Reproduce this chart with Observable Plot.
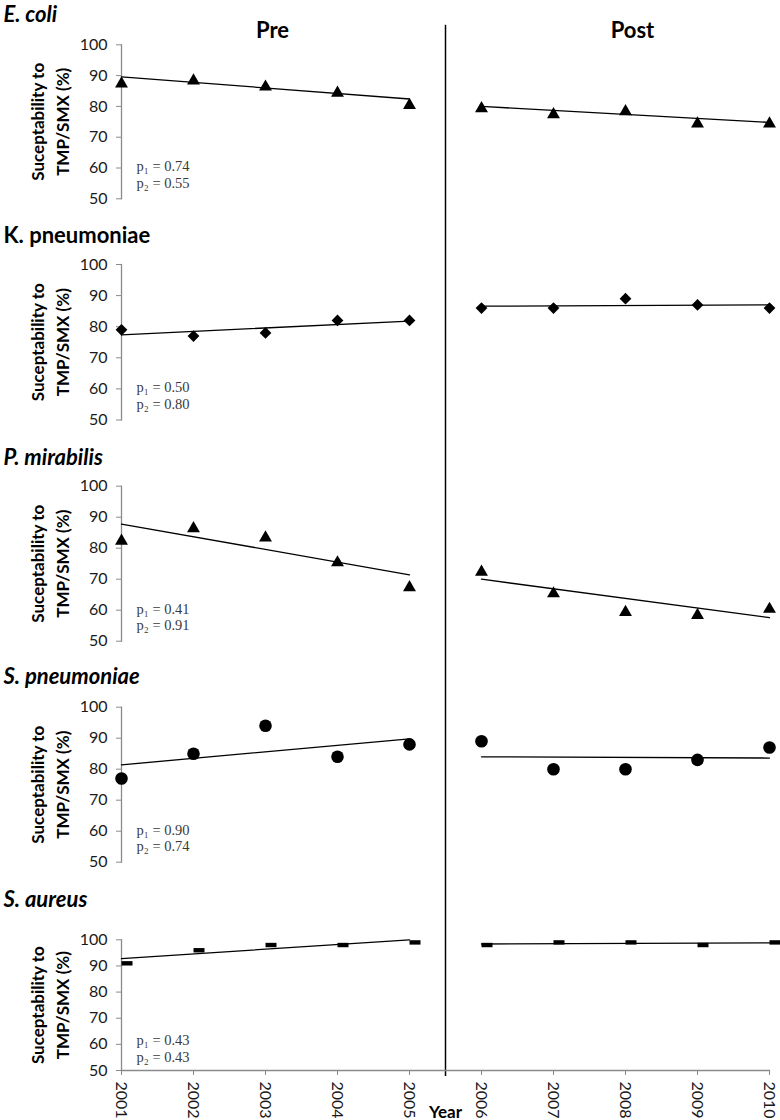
<!DOCTYPE html>
<html>
<head>
<meta charset="utf-8">
<script src="https://cdn.jsdelivr.net/npm/d3@7"></script>
<script src="https://cdn.jsdelivr.net/npm/@observablehq/plot@0.6"></script>
<style>
  body { margin: 0; background: #fff; }
  #chart { position: relative; width: 780px; height: 1120px; overflow: hidden; background: #fff; }
  #chart svg { position: absolute; left: 0; max-width: none; }
</style>
</head>
<body>
<div id="chart"></div>
<script>
// ---------- data ----------
const preYears = [2001, 2002, 2003, 2004, 2005];
const postYears = [2006, 2007, 2008, 2009, 2010];
const allYears = preYears.concat(postYears);
const yTicks = [50, 60, 70, 80, 90, 100];
const periods = ["Pre", "Post"];
const xTitle = "Year";
const yTitle = ["Suceptability to", "TMP/SMX (%)"];

const species = ["E. coli", "K. pneumoniae", "P. mirabilis", "S. pneumoniae", "S. aureus"];

const ecoliPre = [88, 89, 87, 85, 81];
const ecoliPost = [80, 78, 79, 75, 75];
const kpneuPre = [79, 77, 78, 82, 82];
const kpneuPost = [86, 86, 89, 87, 86];
const pmirPre = [83, 87, 84, 76, 68];
const pmirPost = [73, 66, 60, 59, 61];
const spneuPre = [77, 85, 94, 84, 88];
const spneuPost = [89, 80, 80, 83, 87];
const saurPre = [91, 96, 98, 98, 99];
const saurPost = [98, 99, 99, 98, 99];

const p1Values = ["0.74", "0.50", "0.41", "0.90", "0.43"];
const p2Values = ["0.55", "0.80", "0.91", "0.74", "0.43"];

const preSeries = [ecoliPre, kpneuPre, pmirPre, spneuPre, saurPre];
const postSeries = [ecoliPost, kpneuPost, pmirPost, spneuPost, saurPost];

// ---------- styling / layout ----------
const dashSymbol = {
  draw(ctx) {
    ctx.moveTo(0, -2.2); ctx.lineTo(11, -2.2); ctx.lineTo(11, 2.2); ctx.lineTo(0, 2.2); ctx.closePath();
  }
};
const panelStyle = [
  {top: 0,   height: 222, mt: 44.3, mb: 23.7, italic: true,  symbol: "triangle", r: 4.8, dy: 2, divTop: 19.5, divBot: null, pdy: -11, tb: 21},
  {top: 222, height: 222, mt: 42,   mb: 24.5, italic: false, symbol: "diamond2", r: 5.3, dy: 0, divTop: null, divBot: null, pdy: -11, tb: 20},
  {top: 444, height: 220, mt: 41.7, mb: 23.3, italic: true,  symbol: "triangle", r: 4.8, dy: 2, divTop: null, divBot: null, pdy: -11, tb: 20},
  {top: 664, height: 222, mt: 42.7, mb: 24.3, italic: true,  symbol: "circle",   r: 6.3, dy: 0, divTop: null, divBot: null, pdy: -11, tb: 19},
  {top: 886, height: 234, mt: 53.3, mb: 50,   italic: true,  symbol: dashSymbol, r: 4,   dy: 0, divTop: null, divBot: 6,    pdy: -9,  tb: 20}
];
const GRAY = "#8a8a8a";
const ML = 121, MR = 11;
const dividerX = (preYears[preYears.length - 1] + postYears[0]) / 2;

const chart = document.getElementById("chart");

species.forEach((name, i) => {
  const st = panelStyle[i];
  const isFirst = i === 0;
  const isLast = i === species.length - 1;
  const pre = preYears.map((x, j) => ({x, y: preSeries[i][j]}));
  const post = postYears.map((x, j) => ({x, y: postSeries[i][j]}));
  const all = pre.concat(post);

  const marks = [
    // y axis line and ticks
    Plot.frame({anchor: "left", stroke: GRAY, strokeWidth: 1.3}),
    Plot.axisY({ticks: yTicks, tickSize: 5, tickPadding: 9, stroke: GRAY, fill: "#1a1a1a",
      fontSize: 16, label: null, tickFormat: d => String(d)}),
    // divider
    Plot.ruleX([dividerX], {stroke: "#000", strokeWidth: 1.5,
      insetTop: -(st.divTop != null ? st.divTop : st.mt),
      insetBottom: -(st.divBot != null ? st.divBot : st.mb)}),
    // regression lines
    Plot.linearRegressionY(pre, {x: "x", y: "y", ci: 0, stroke: "#000", strokeWidth: 1.3}),
    Plot.linearRegressionY(post, {x: "x", y: "y", ci: 0, stroke: "#000", strokeWidth: 1.3}),
    // points
    Plot.dot(all, {x: "x", y: "y", symbol: () => st.symbol, r: st.r, fill: "#000", stroke: "none", dy: st.dy}),
    // p-values
    Plot.text([`p\u2081 = ${p1Values[i]}\np\u2082 = ${p2Values[i]}`], {
      frameAnchor: "bottom-left", dx: 15, dy: st.pdy, lineAnchor: "bottom", textAnchor: "start",
      fontFamily: "Liberation Serif, 'Times New Roman', serif", fontSize: 14.5, lineHeight: 1.15, fill: "#3a3a3a"}),
    // species title
    Plot.text([name], {frameAnchor: "top-left", dx: -ML + 3, dy: st.tb - st.mt, lineAnchor: "bottom",
      textAnchor: "start", fontSize: 22, fontWeight: "bold", fontStyle: st.italic ? "italic" : "normal", fill: "#000"}),
    // y title
    Plot.text([yTitle.join("\n")], {frameAnchor: "left", rotate: -90, dx: 48 - ML, lineAnchor: "middle",
      textAnchor: "middle", fontSize: 17, fontWeight: "bold", lineHeight: 1.5, fill: "#000"})
  ];

  if (isFirst) {
    marks.push(Plot.text(periods.map((p, k) => ({label: p, x: d3.mean(k === 0 ? preYears : postYears)})), {
      x: "x", text: "label", frameAnchor: "top", dx: 7, dy: 37 - st.mt, lineAnchor: "bottom",
      fontSize: 22, fontWeight: "bold", fill: "#000"}));
  }
  if (isLast) {
    marks.push(Plot.frame({anchor: "bottom", stroke: GRAY, strokeWidth: 1.3}));
    marks.push(Plot.axisX({ticks: allYears, tickSize: 5, tickPadding: 6, tickRotate: 90, stroke: GRAY,
      fill: "#1a1a1a", fontSize: 16, label: null, tickFormat: d => String(d)}));
    marks.push(Plot.text([{x: dividerX, t: xTitle}], {x: "x", text: "t", frameAnchor: "bottom", dy: 47,
      lineAnchor: "bottom", fontSize: 17, fontWeight: "bold", fill: "#000"}));
  }

  const svg = Plot.plot({
    width: 780,
    height: st.height,
    marginTop: st.mt,
    marginBottom: st.mb,
    marginLeft: ML,
    marginRight: MR,
    x: {domain: [allYears[0], allYears[allYears.length - 1]], axis: isLast ? undefined : null},
    y: {domain: [yTicks[0], yTicks[yTicks.length - 1]]},
    style: {fontFamily: "Lato, 'Open Sans', sans-serif", background: "transparent", color: "#000", overflow: "visible"},
    marks
  });
  svg.style.top = st.top + "px";
  chart.appendChild(svg);
});
</script>
</body>
</html>
